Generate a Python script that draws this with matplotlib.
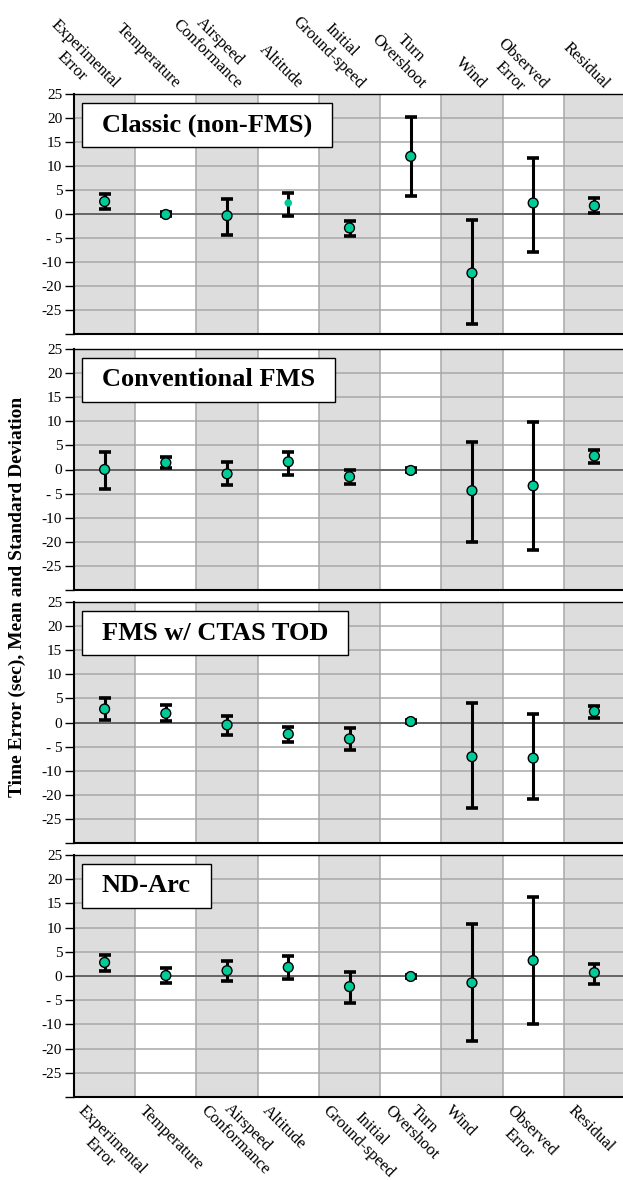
import matplotlib
matplotlib.use("Agg")
import matplotlib.pyplot as plt
import matplotlib.transforms as mtransforms
from matplotlib.patches import Rectangle
import numpy as np

plt.rcParams['font.family'] = ['Liberation Serif', 'DejaVu Serif']

# categories along x
categories = ["Experimental\nError", "Temperature", "Airspeed\nConformance",
              "Altitude", "Initial\nGround-speed", "Turn\nOvershoot", "Wind",
              "Observed\nError", "Residual"]
panels = ["Classic (non-FMS)", "Conventional FMS", "FMS w/ CTAS TOD", "ND-Arc"]

# y axis as printed in the original (note the odd -20/-25 labels)
ytick_pos = [25, 20, 15, 10, 5, 0, -5, -10, -15, -20, -25]
ytick_lab = ['25', '20', '15', '10', '5', '0', '- 5', '-10', '-20', '-25', '']

# mean, upper and lower end of the std bar (axis position units)
classic_mean = [2.6, -0.1, -0.35, 2.3, -2.9, 12.0, -12.3, 2.3, 1.7]
classic_hi = [4.2, 0.4, 3.1, 4.4, -1.4, 20.3, -1.2, 11.7, 3.3]
classic_lo = [1.0, -0.5, -4.4, -0.35, -4.6, 3.7, -22.9, -7.9, 0.2]

conv_mean = [0.0, 1.4, -0.9, 1.6, -1.5, -0.2, -4.4, -3.4, 2.8]
conv_hi = [3.6, 2.5, 1.5, 3.6, 0.0, 0.3, 5.8, 9.9, 4.1]
conv_lo = [-4.0, 0.3, -3.3, -1.1, -3.1, -0.6, -15.1, -16.7, 1.25]

ctas_mean = [2.8, 1.9, -0.5, -2.4, -3.4, 0.2, -7.1, -7.4, 2.3]
ctas_hi = [5.0, 3.6, 1.4, -0.9, -1.2, 0.5, 4.1, 1.7, 3.5]
ctas_lo = [0.55, 0.35, -2.6, -4.0, -5.8, -0.1, -17.8, -15.9, 1.0]

ndarc_mean = [2.8, 0.1, 1.1, 1.8, -2.2, -0.1, -1.4, 3.2, 0.7]
ndarc_hi = [4.4, 1.6, 3.0, 4.1, 0.9, 0.2, 10.7, 16.3, 2.5]
ndarc_lo = [1.1, -1.5, -1.1, -0.7, -5.5, -0.4, -13.5, -10.0, -1.6]

means = [classic_mean, conv_mean, ctas_mean, ndarc_mean]
highs = [classic_hi, conv_hi, ctas_hi, ndarc_hi]
lows = [classic_lo, conv_lo, ctas_lo, ndarc_lo]

W, H = 623, 1180
fig = plt.figure(figsize=(W / 100, H / 100), dpi=100)

# panel top/bottom in pixels
rows = [(94, 334), (349, 590), (602, 843), (855, 1097)]
left_px, right_px = 74, 625

green = '#00cc99'
shade = '#dddddd'
x = np.arange(len(categories))
axes = []
for p, (top, bot) in enumerate(rows):
    ax = fig.add_axes([left_px / W, 1 - bot / H, (right_px - left_px) / W, (bot - top) / H])
    axes.append(ax)
    ax.set_xlim(-0.5, len(categories) - 0.5)
    ax.set_ylim(-25, 25)
    for i in range(0, len(categories), 2):
        ax.axvspan(i - 0.5, i + 0.5, color=shade, lw=0, zorder=0)
    ax.set_yticks(ytick_pos)
    ax.set_yticklabels(ytick_lab, fontsize=11)
    ax.set_xticks(np.arange(-0.5, len(categories), 1))
    ax.set_xticklabels([])
    ax.tick_params(axis='x', length=0)
    ax.tick_params(axis='y', length=6.5, width=1, color='black', pad=2)
    ax.grid(True, color='#a8a8a8', lw=1.1, zorder=1)
    ax.set_axisbelow(True)
    ax.axhline(0, color='#606060', lw=1.3, zorder=2)
    ax.spines['right'].set_visible(False)
    ax.spines['top'].set_linewidth(1.0)
    ax.spines['left'].set_linewidth(1.5)
    ax.spines['bottom'].set_linewidth(1.5)

    m = np.array(means[p])
    hi = np.array(highs[p])
    lo = np.array(lows[p])
    ax.errorbar(x, m, yerr=[m - lo, hi - m], fmt='none', ecolor='black',
                elinewidth=2.2, capsize=4.5, capthick=2.6, zorder=4)
    edges = ['black'] * len(x)
    sizes = [50] * len(x)
    if p == 0:
        edges[3] = 'none'
        sizes[3] = 30
    ax.scatter(x, m, s=sizes, c=green, edgecolors=edges, linewidths=1, zorder=5)

    ax.text(0, 0, panels[p], fontsize=19, fontweight='bold', zorder=7,
            transform=mtransforms.offset_copy(ax.transAxes, fig=fig, x=8 + 20, y=(bot - top) - 9 - 22, units='dots'),
            ha='left', va='center')

fig.canvas.draw()
renderer = fig.canvas.get_renderer()
for p, ax in enumerate(axes):
    t = ax.texts[-1]
    bb = t.get_window_extent(renderer)
    abox = ax.bbox
    w = (bb.width + 40) / abox.width
    h = 44 / abox.height
    x0 = 8 / abox.width
    y0 = 1 - (9 + 44) / abox.height
    ax.add_patch(Rectangle((x0, y0), w, h, transform=ax.transAxes, facecolor='white',
                           edgecolor='black', lw=1.0, zorder=6))


def text_width(s, size):
    t = fig.text(0, 0, s, fontsize=size)
    w = t.get_window_extent(renderer).width
    t.remove()
    return w


# category labels, drawn line by line at -45 degrees (display coords, y up)
lab_size = 12
spacing = 18
along = np.array([np.sqrt(0.5), -np.sqrt(0.5)])
perp_down = np.array([-np.sqrt(0.5), -np.sqrt(0.5)])
col_w = (right_px - left_px) / len(categories)
for i, lab in enumerate(categories):
    lines = lab.split('\n')
    widths = [text_width(s, lab_size) for s in lines]
    kmax = int(np.argmax(widths))
    cx = left_px + (i + 0.5) * col_w
    end0 = np.array([cx + 12, H - rows[0][0] + 8])
    start0 = np.array([cx - 24, H - rows[-1][1] - 11])
    for k, s in enumerate(lines):
        shift = (widths[kmax] - widths[k]) / 2
        pe = end0 + (k - kmax) * spacing * perp_down - shift * along
        fig.text(pe[0] / W, pe[1] / H, s, fontsize=lab_size, rotation=-45,
                 rotation_mode='anchor', ha='right', va='center')
        ps = start0 + (k - kmax) * spacing * perp_down + shift * along
        fig.text(ps[0] / W, ps[1] / H, s, fontsize=lab_size, rotation=-45,
                 rotation_mode='anchor', ha='left', va='center')

fig.text(17 / W, 1 - 597 / H, 'Time Error (sec), Mean and Standard Deviation',
         rotation=90, ha='center', va='center', fontsize=14, fontweight='bold')

fig.savefig('out.png', dpi=100)
